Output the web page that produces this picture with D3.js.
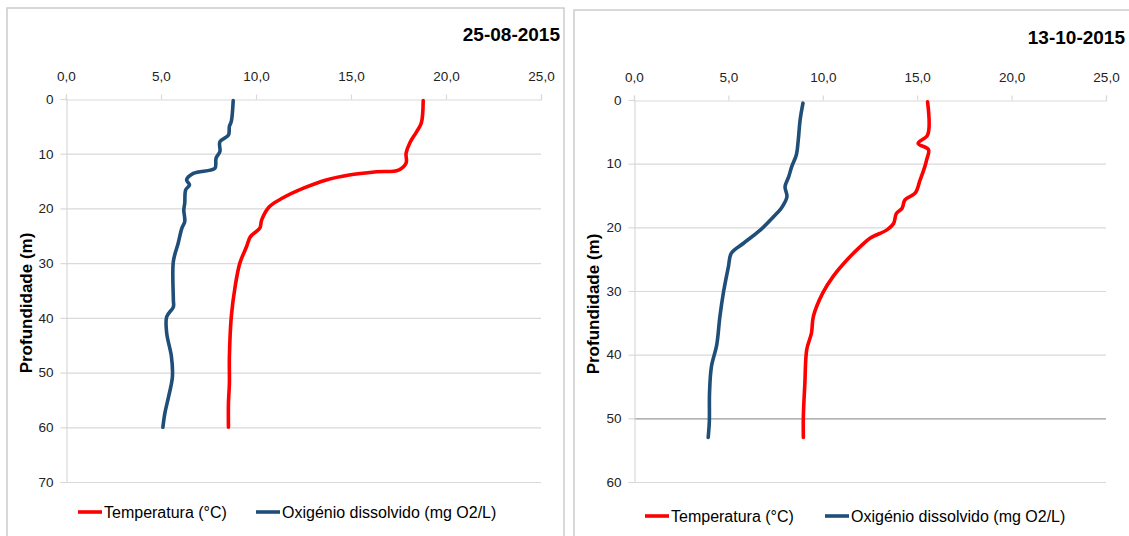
<!DOCTYPE html>
<html><head><meta charset="utf-8">
<script src="https://cdn.jsdelivr.net/npm/d3@7"></script>
<style>body{margin:0;background:#fff}svg{display:block}text{font-family:"Liberation Sans Narrow","Liberation Sans",Arial,sans-serif}</style>
</head><body><svg id="c" width="1129" height="536"></svg>
<script>
// ---- data ----
const xTicks = [0, 5, 10, 15, 20, 25];
const titles = ["25-08-2015", "13-10-2015"];
const yTicksA = [0, 10, 20, 30, 40, 50, 60, 70];
const yTicksB = [0, 10, 20, 30, 40, 50, 60];
const seriesNames = ["Temperatura (°C)", "Oxigénio dissolvido (mg O2/L)"];
const seriesColors = ["#ff0000", "#1f4e79"];

// panel A (25-08-2015)
const tempDepthA = [0.3, 4.4, 6, 8, 9.9, 11.7, 13, 13.3, 13.9, 14.8, 16.3, 18.1, 19.7, 22.1, 23.6, 25.2, 27, 30, 34.3, 39.8, 47.1, 52, 55.6, 60];
const tempA      = [18.8, 18.7, 18.45, 18.1, 17.9, 17.9, 17.5, 16.35, 14.9, 13.7, 12.5, 11.4, 10.7, 10.3, 10.2, 9.7, 9.5, 9.15, 8.9, 8.7, 8.6, 8.6, 8.55, 8.55];
const oxyDepthA  = [0.3, 4.1, 5, 6.6, 7.8, 9.6, 10.8, 12.6, 13, 13.6, 14.8, 15.7, 16.6, 19, 20.3, 22.4, 23.6, 26.4, 29.7, 36.7, 38, 39.8, 42.8, 47.1, 50.8, 54.4, 57.5, 60];
const oxyA       = [8.8, 8.7, 8.6, 8.55, 8.1, 8.1, 7.9, 7.85, 7.6, 6.7, 6.35, 6.5, 6.3, 6.25, 6.2, 6.25, 6.1, 5.9, 5.65, 5.65, 5.65, 5.3, 5.3, 5.55, 5.6, 5.4, 5.2, 5.1];

// panel B (13-10-2015)
const tempDepthB = [0.3, 5.5, 6.8, 7.8, 9.4, 10.5, 12.6, 14.6, 15.7, 17, 17.8, 19.4, 20.4, 21.7, 23, 24.9, 27.7, 30.3, 34, 36.6, 39.2, 44.5, 49.7, 53];
const tempB      = [15.55, 15.55, 15.05, 15.6, 15.5, 15.4, 15.15, 14.9, 14.35, 14.2, 13.9, 13.75, 13.4, 12.5, 12.0, 11.35, 10.55, 10.0, 9.5, 9.4, 9.15, 9.05, 8.97, 8.97];
const oxyDepthB  = [0.5, 3.1, 6.3, 8.6, 10.5, 12, 13.6, 15.2, 17, 18.3, 20.4, 22.5, 24.1, 26.2, 30, 34, 38.5, 41.9, 46, 50.5, 53];
const oxyB       = [8.95, 8.8, 8.7, 8.6, 8.35, 8.2, 8.0, 8.1, 7.8, 7.4, 6.7, 5.8, 5.15, 5.0, 4.75, 4.55, 4.38, 4.1, 4.0, 3.99, 3.93];

// ---- layout ----
const panels = [
  {frame:[7,8,557,560], title:titles[0], tx:560, ty:41, x0:66, x1:541, y0:99, y1:482, ymax:70, yt:yTicksA, dark:null,
   series:[[tempDepthA,tempA],[oxyDepthA,oxyA]], ytitleX:26, ytitleY:303, legY:512, leg:[78,256]},
  {frame:[574,10,600,560], title:titles[1], tx:1125, ty:44, x0:634, x1:1106, y0:100, y1:482, ymax:60, yt:yTicksB, dark:50,
   series:[[tempDepthB,tempB],[oxyDepthB,oxyB]], ytitleX:593, ytitleY:304, legY:516, leg:[645,825]}
];

const svg = d3.select("#c");
const grid = "#d9d9d9";

panels.forEach(p => {
  const g = svg.append("g");
  g.append("rect").attr("x",p.frame[0]).attr("y",p.frame[1]).attr("width",p.frame[2]).attr("height",p.frame[3])
    .attr("fill","none").attr("stroke","#cccccc").attr("stroke-width",1.5);
  g.append("text").attr("x",p.tx).attr("y",p.ty).attr("text-anchor","end")
    .attr("font-size",19).attr("font-weight","bold").attr("fill","#000").text(p.title);

  const x = d3.scaleLinear().domain([0,25]).range([p.x0,p.x1]);
  const y = d3.scaleLinear().domain([0,p.ymax]).range([p.y0,p.y1]);

  // gridlines
  g.selectAll(".gl").data(p.yt.slice(1)).join("line")
    .attr("x1",p.x0).attr("x2",p.x1).attr("y1",d=>y(d)+0.5).attr("y2",d=>y(d)+0.5)
    .attr("stroke",d => d===p.dark ? "#9a9a9a" : grid).attr("stroke-width",1.2);

  // top axis
  const xa = d3.axisTop(x).tickValues(xTicks).tickSize(5).tickPadding(14)
    .tickFormat(d => d3.format(".1f")(d).replace(".", ","));
  const gx = g.append("g").attr("transform",`translate(0,${p.y0+0.5})`).call(xa);
  gx.select(".domain").attr("stroke",grid).attr("stroke-width",1.2);
  gx.selectAll(".tick line").attr("stroke",grid).attr("stroke-width",1.2);
  gx.selectAll("text").attr("font-size",13.5).attr("fill","#222");

  // left axis
  const ya = d3.axisLeft(y).tickValues(p.yt).tickSize(6).tickPadding(7);
  const gy = g.append("g").attr("transform",`translate(${p.x0+0.5},0)`).call(ya);
  gy.select(".domain").attr("stroke",grid).attr("stroke-width",1.2);
  gy.selectAll(".tick line").attr("stroke",grid).attr("stroke-width",1.2);
  gy.selectAll("text").attr("font-size",13.5).attr("fill","#222");

  // y title
  g.append("text").attr("transform",`translate(${p.ytitleX},${p.ytitleY}) rotate(-90)`)
    .attr("text-anchor","middle").attr("dominant-baseline","central")
    .attr("font-size",17).attr("font-weight","bold").attr("fill","#000").text("Profundidade (m)");

  // lines
  const line = d3.line().x(d=>x(d[1])).y(d=>y(d[0])).curve(d3.curveCatmullRom.alpha(0.5));
  p.series.forEach((s,i) => {
    const pts = s[0].map((d,k)=>[d, s[1][k]]);
    g.append("path").datum(pts).attr("d",line).attr("fill","none")
      .attr("stroke",seriesColors[i]).attr("stroke-width",3.6)
      .attr("stroke-linecap","round").attr("stroke-linejoin","round");
  });

  // legend
  seriesNames.forEach((n,i) => {
    const lx = p.leg[i];
    g.append("line").attr("x1",lx).attr("x2",lx+24).attr("y1",p.legY).attr("y2",p.legY)
      .attr("stroke",seriesColors[i]).attr("stroke-width",3.6);
    g.append("text").attr("x",lx+26).attr("y",p.legY).attr("dominant-baseline","central")
      .attr("font-size",16).attr("fill","#000").text(n);
  });
});
</script></body></html>
